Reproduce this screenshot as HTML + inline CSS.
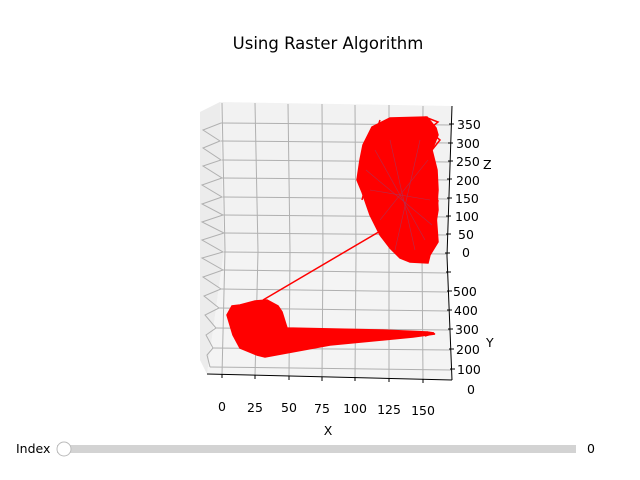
<!DOCTYPE html>
<html><head><style>
body{margin:0;background:#fff;}
svg{display:block;font-family:"DejaVu Sans","Liberation Sans",sans-serif;}
</style></head><body>
<svg width="640" height="480" viewBox="0 0 640 480">
<rect width="640" height="480" fill="#fff"/>
<text x="328" y="49" font-size="16.5" text-anchor="middle">Using Raster Algorithm</text>
<polygon points="220,102 452,106 447,255 224,250" fill="#f2f2f2"/>
<polygon points="224,250 447,255 452,380 207,374" fill="#f4f4f4"/>
<polygon points="200,112 220,102 224,250 207,374 200,360" fill="#ececec"/>
<g stroke="#b0b0b0" stroke-width="1" fill="none">
<line x1="222" y1="103" x2="225" y2="250"/>
<line x1="255" y1="103" x2="258" y2="251"/>
<line x1="288" y1="104" x2="290" y2="251"/>
<line x1="322" y1="104" x2="323" y2="252"/>
<line x1="355" y1="105" x2="356" y2="253"/>
<line x1="389" y1="105" x2="389" y2="253"/>
<line x1="423" y1="106" x2="422" y2="254"/>
<line x1="225" y1="250" x2="222" y2="375"/>
<line x1="258" y1="251" x2="255" y2="376"/>
<line x1="290" y1="251" x2="289" y2="376"/>
<line x1="323" y1="252" x2="322" y2="377"/>
<line x1="356" y1="253" x2="355" y2="377"/>
<line x1="389" y1="253" x2="389" y2="378"/>
<line x1="422" y1="254" x2="423" y2="379"/>
<line x1="221" y1="123" x2="451" y2="125"/>
<line x1="221" y1="141" x2="451" y2="143"/>
<line x1="222" y1="160" x2="450" y2="162"/>
<line x1="222" y1="178" x2="450" y2="180"/>
<line x1="223" y1="197" x2="449" y2="199"/>
<line x1="223" y1="215" x2="449" y2="217"/>
<line x1="224" y1="233" x2="448" y2="235"/>
<line x1="224" y1="252" x2="447" y2="254"/>
<line x1="223" y1="270" x2="448" y2="273"/>
<line x1="221" y1="289" x2="449" y2="292"/>
<line x1="219" y1="308" x2="449" y2="311"/>
<line x1="216" y1="328" x2="450" y2="330"/>
<line x1="213" y1="348" x2="451" y2="350"/>
<line x1="210" y1="367" x2="451" y2="370"/>
<polyline points="221,123 203,130 220,141 203,148 221,160 203,166 222,178 202,185 222,197 202,204 223,215 202,222 224,233 202,240 223,252 202,258 223,270 203,277 221,289 204,296 219,308 205,315 216,328 206,335 213,348 207,355 210,367"/>
</g>
<g stroke="#000" stroke-width="1" fill="none">
<polyline points="452,106 447,256 452,380"/>
<line x1="207" y1="374" x2="452" y2="380"/>
</g>
<g stroke="#000" stroke-width="1">
<line x1="222" y1="374" x2="222" y2="378"/><line x1="255" y1="375" x2="255" y2="379"/>
<line x1="289" y1="376" x2="289" y2="380"/><line x1="322" y1="377" x2="322" y2="381"/>
<line x1="355" y1="377" x2="355" y2="381"/><line x1="389" y1="378" x2="389" y2="382"/>
<line x1="423" y1="379" x2="423" y2="383"/>
<line x1="449" y1="124" x2="454" y2="124"/><line x1="448" y1="143" x2="453" y2="143"/>
<line x1="448" y1="161" x2="453" y2="161"/><line x1="447" y1="179" x2="452" y2="179"/>
<line x1="447" y1="198" x2="452" y2="198"/><line x1="446" y1="216" x2="451" y2="216"/>
<line x1="446" y1="234" x2="451" y2="234"/><line x1="445" y1="253" x2="450" y2="253"/>
<line x1="446" y1="272" x2="451" y2="272"/><line x1="447" y1="291" x2="452" y2="291"/>
<line x1="447" y1="310" x2="452" y2="310"/><line x1="448" y1="329" x2="453" y2="329"/>
<line x1="449" y1="349" x2="454" y2="349"/><line x1="450" y1="369" x2="455" y2="369"/>
</g>
<g fill="#ff0000" stroke="#ff0000" stroke-width="1.5">
<polygon points="372,127 390,118 427,117 436,128 438,135 432,150 437,170 438,190 436,215 438,242 430,255 428,263 410,262 400,258 390,248 380,235 370,215 362,192 357,180 360,160 363,145"/>
<polygon points="227,315 232,306 240,305 255,301 267,300 278,306 282,312 287,328 380,330 427,332 435,334 413,337 330,345 265,357 257,355 240,348 233,335"/>
<line x1="263" y1="300" x2="382" y2="230"/>
</g>
<g stroke="#ff0000" stroke-width="1.5" fill="none">
<polyline points="372,127 368,150 358,180 372,160 362,200"/>
<polyline points="425,117 438,122 428,130 440,140 432,150"/>
<polyline points="437,190 438,210 433,240 438,200"/>
<polyline points="380,120 375,135 395,118 388,132"/>
<polyline points="427,332 434,333 425,336"/>
</g>
<g stroke="#6a5a9a" stroke-width="0.6" opacity="0.5">
<line x1="375" y1="150" x2="425" y2="240"/><line x1="390" y1="140" x2="415" y2="250"/>
<line x1="370" y1="190" x2="430" y2="200"/><line x1="380" y1="220" x2="428" y2="160"/>
<line x1="395" y1="250" x2="420" y2="140"/><line x1="366" y1="170" x2="432" y2="225"/>
</g>
<g font-size="12.5" fill="#000">
<text x="222" y="411" text-anchor="middle">0</text><text x="255" y="412" text-anchor="middle">25</text>
<text x="289" y="412" text-anchor="middle">50</text><text x="322" y="413" text-anchor="middle">75</text>
<text x="355" y="413" text-anchor="middle">100</text><text x="389" y="414" text-anchor="middle">125</text>
<text x="423" y="415" text-anchor="middle">150</text>
<text x="328" y="435" text-anchor="middle">X</text>
<text x="457" y="129">350</text><text x="456" y="148">300</text><text x="456" y="166">250</text>
<text x="456" y="185">200</text><text x="455" y="203">150</text><text x="455" y="221">100</text>
<text x="458" y="239">50</text><text x="462" y="257">0</text>
<text x="483" y="169">Z</text>
<text x="453" y="296">500</text><text x="454" y="315">400</text><text x="455" y="334">300</text>
<text x="456" y="354">200</text><text x="457" y="374">100</text><text x="467" y="394">0</text>
<text x="486" y="347">Y</text>
<text x="16" y="453">Index</text>
<text x="587" y="453">0</text>
</g>
<rect x="57" y="445" width="519" height="8" fill="#d3d3d3"/>
<circle cx="64" cy="449" r="7" fill="#fff" stroke="#bbb" stroke-width="1"/>
</svg>
</body></html>
